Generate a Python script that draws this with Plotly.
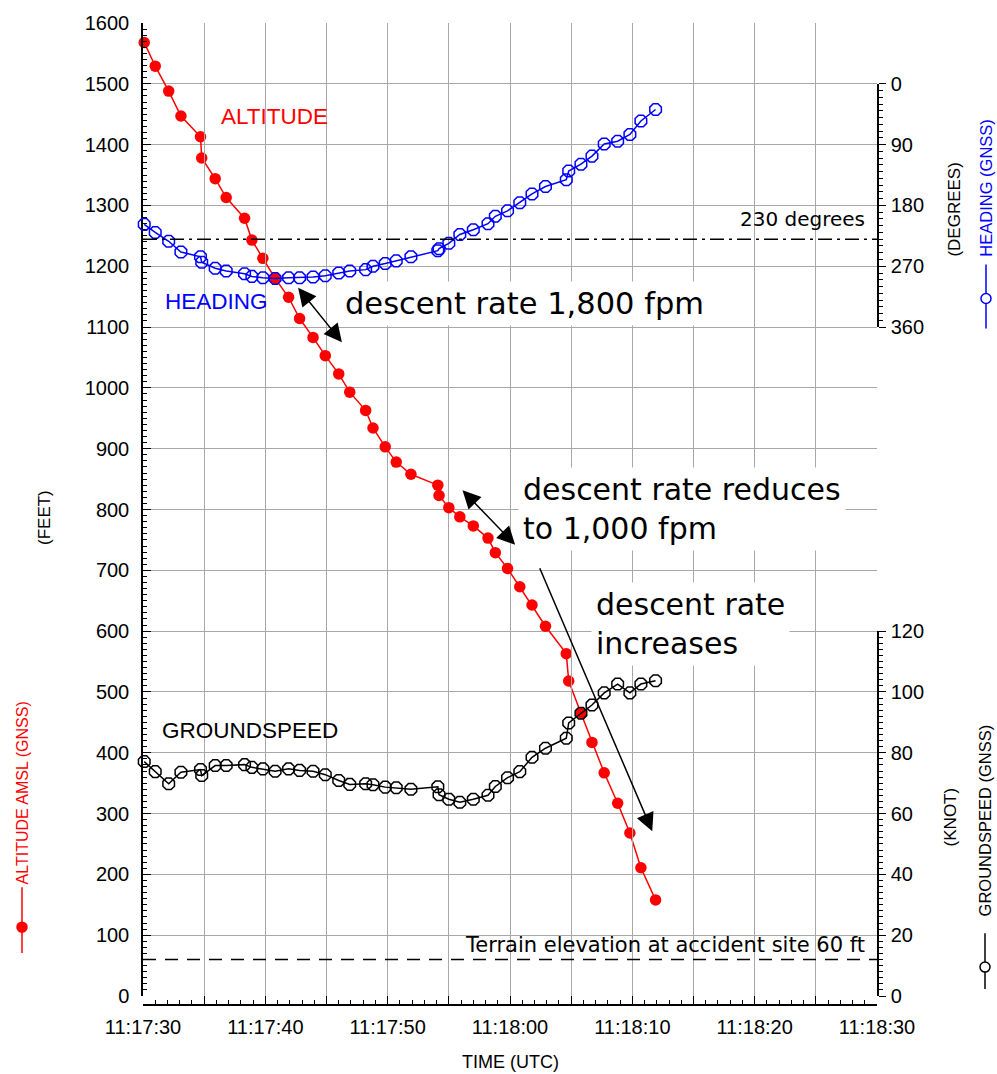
import plotly.graph_objects as go

# ---------------- data ----------------
# sample times, seconds after 11:17:00 UTC
time_s = [30.1, 31.0, 32.1, 33.1, 34.7, 34.8, 35.9, 36.8, 38.3, 38.9,
          39.8, 40.8, 41.9, 42.8, 43.9, 44.9, 46.0, 46.9, 48.2, 48.8,
          49.8, 50.7, 51.9, 54.1, 54.2, 55.0, 55.9, 57.0, 58.2, 58.8,
          59.8, 60.8, 61.8, 62.9, 64.6, 64.8, 65.8, 66.7, 67.7, 68.8,
          69.8, 70.7, 71.9]

altitude_ft = [1568, 1529, 1488, 1447, 1413, 1378, 1344, 1313, 1279, 1243,
               1213, 1180, 1149, 1114, 1083, 1053, 1023, 993, 963, 934,
               903, 878, 858, 840, 823, 803, 788, 773, 753, 729,
               703, 673, 643, 608, 563, 518, 465, 417, 367, 317,
               268, 211, 158]

heading_deg = [208, 220, 233, 249, 256, 264, 273, 277, 281, 285,
               287, 288, 287, 287, 286, 284, 280, 277, 275, 270,
               266, 262, 256, 247, 244, 236, 223, 216, 207, 196,
               188, 176, 163, 152, 142, 129, 119, 107, 89, 85,
               75, 55, 38]

groundspeed_kt = [77.1, 73.8, 69.8, 73.6, 74.5, 72.5, 75.8, 75.8, 76.1, 75.2,
                  74.7, 73.9, 74.7, 74.2, 73.9, 72.8, 70.9, 69.6, 69.8, 69.5,
                  68.7, 68.5, 68.0, 68.8, 66.2, 64.7, 63.7, 64.7, 66.0, 68.9,
                  71.8, 73.8, 78.5, 81.5, 84.8, 89.8, 93.0, 95.7, 99.7, 102.6,
                  99.7, 102.6, 103.7]

heading_ticks = [0, 90, 180, 270, 360]
HEADING_REF_DEG = 230
TERRAIN_FT = 60
ALT_RANGE = [0, 1600]
TIME_RANGE_S = [30, 90]


def ts(sec):
    m = int(sec // 60)
    s = sec - 60 * m
    return f"2000-01-01 11:{17 + m:02d}:{s:06.3f}"


times = [ts(s) for s in time_s]

# ---------------- layout geometry ----------------
W, H = 997, 1074
ML, MR, MT, MB = 143, 120, 21, 69
PW = W - ML - MR
PH = H - MT - MB
D0 = 9 / PH  # gap between the plot bottom and the offset time axis


def f_alt(ft):
    return D0 + (1 - D0) * ft / 1600.0


def px2x(px):
    return (px - ML) / PW


def py2y(py):
    return (H - MB - py) / PH


FONT = "Liberation Sans, Arial, sans-serif"
FONT2 = "DejaVu Sans, Liberation Sans, sans-serif"
GRID = "#a8a8a8"
RED = "#ff0000"
BLUE = "#0000ff"

fig = go.Figure()
fig.add_trace(go.Scatter(x=times, y=altitude_ft, mode="lines+markers", yaxis="y",
                         line=dict(color=RED, width=1.5),
                         marker=dict(symbol="circle", size=11.5, color=RED),
                         cliponaxis=False, showlegend=False))
fig.add_trace(go.Scatter(x=times, y=heading_deg, mode="lines+markers", yaxis="y3",
                         line=dict(color=BLUE, width=1.5),
                         marker=dict(symbol="octagon-open", size=12.5, color=BLUE,
                                     line=dict(width=1.5, color=BLUE)),
                         cliponaxis=False, showlegend=False))
fig.add_trace(go.Scatter(x=times, y=groundspeed_kt, mode="lines+markers", yaxis="y4",
                         line=dict(color="black", width=1.5),
                         marker=dict(symbol="octagon-open", size=12.5, color="black",
                                     line=dict(width=1.5, color="black")),
                         cliponaxis=False, showlegend=False))

tickfont = dict(family=FONT, size=20, color="black")

fig.update_layout(
    width=W, height=H,
    margin=dict(l=ML, r=MR, t=MT, b=MB, pad=0),
    paper_bgcolor="white", plot_bgcolor="rgba(0,0,0,0)",
    font=dict(family=FONT, color="black"),
    showlegend=False,
    xaxis=dict(type="date", range=[ts(TIME_RANGE_S[0]), ts(TIME_RANGE_S[1])],
               dtick=5000, ticklabelstep=2, tickformat="%H:%M:%S",
               showgrid=True, gridcolor=GRID, gridwidth=1, zeroline=False,
               showline=True, linecolor="black", linewidth=1.5,
               ticks="inside", ticklen=8, tickwidth=1.2, tickcolor="black",
               minor=dict(dtick=1000, ticks="inside", ticklen=4, tickwidth=1,
                          tickcolor="black", showgrid=False),
               anchor="free", position=0, tickfont=tickfont, ticklabelstandoff=4),
    yaxis=dict(range=ALT_RANGE, domain=[D0, 1], dtick=100,
               showgrid=True, gridcolor=GRID, gridwidth=1, zeroline=False,
               showline=True, linecolor="black", linewidth=1.5,
               ticks="inside", ticklen=8, tickwidth=1.2, tickcolor="black",
               minor=dict(dtick=10, ticks="inside", ticklen=4, tickwidth=1,
                          tickcolor="black", showgrid=False),
               tickfont=tickfont, ticklabelstandoff=8),
    yaxis3=dict(range=[360, 0], domain=[f_alt(1100), f_alt(1500)], anchor="x",
                side="right", tickvals=heading_ticks, showgrid=False, zeroline=False,
                showline=True, linecolor="black", linewidth=1.5,
                ticks="outside", ticklen=7, tickwidth=1.2, tickcolor="black",
                minor=dict(dtick=10, ticks="outside", ticklen=4, tickwidth=1,
                           tickcolor="black", showgrid=False),
                tickfont=tickfont, ticklabelstandoff=1),
    yaxis4=dict(range=[0, 120], domain=[D0, f_alt(600)], anchor="x",
                side="right", dtick=20, showgrid=False, zeroline=False,
                showline=True, linecolor="black", linewidth=1.5,
                ticks="outside", ticklen=7, tickwidth=1.2, tickcolor="black",
                minor=dict(dtick=2, ticks="outside", ticklen=4, tickwidth=1,
                           tickcolor="black", showgrid=False),
                tickfont=tickfont, ticklabelstandoff=1),
)

shapes = [
    dict(type="line", xref="x domain", x0=0, x1=1, yref="y3",
         y0=HEADING_REF_DEG, y1=HEADING_REF_DEG,
         line=dict(color="black", width=1.5, dash="14px,5px,3px,5px")),
    dict(type="line", xref="x domain", x0=0, x1=1, yref="y",
         y0=TERRAIN_FT, y1=TERRAIN_FT,
         line=dict(color="black", width=1.5, dash="13px,9px")),
]


def sym(xp, ytop, ybot, ycirc, color, filled):
    out = [dict(type="line", xref="paper", yref="paper",
                x0=px2x(xp), x1=px2x(xp), y0=py2y(ytop), y1=py2y(ybot),
                line=dict(color=color, width=1.5))]
    r = 5
    out.append(dict(type="circle", xref="paper", yref="paper",
                    x0=px2x(xp - r), x1=px2x(xp + r), y0=py2y(ycirc + r), y1=py2y(ycirc - r),
                    line=dict(color=color, width=1.5),
                    fillcolor=color if filled else "white"))
    return out


shapes += sym(22, 887, 953, 927, RED, True)
shapes += sym(986, 263, 327, 297, BLUE, False)
shapes += sym(985, 933, 989, 967, "black", False)
fig.update_layout(shapes=shapes)

ann = []


def txt(text, px, py, size, color="black", xanchor="center", angle=0, bg=None,
        family=FONT, align="left"):
    d = dict(text=text, xref="paper", yref="paper", x=px2x(px), y=py2y(py),
             xanchor=xanchor, yanchor="middle", showarrow=False, textangle=angle,
             align=align, font=dict(family=family, size=size, color=color))
    if bg:
        d.update(bgcolor=bg, borderpad=4)
    ann.append(d)


txt("ALTITUDE", 274, 115, 22.5, RED)
txt("HEADING", 216, 300, 22.5, BLUE)
txt("GROUNDSPEED", 250, 730, 22.5)
txt("descent rate 1,800 fpm", 340, 302, 30.5, xanchor="left", bg="white", family=FONT2)
txt("descent rate reduces<br>to 1,000 fpm", 518, 508, 30, xanchor="left", bg="white",
    family=FONT2)
txt("descent rate<br>increases", 591, 623, 30, xanchor="left", bg="white", family=FONT2)
txt("230 degrees", 867, 217, 20, xanchor="right", family=FONT2)
txt("Terrain elevation at accident site 60 ft", 867, 945, 21, xanchor="right",
    family=FONT2)
txt("TIME (UTC)", 510, 1062, 18)
txt("(FEET)", 45, 517, 17, angle=-90)
txt("ALTITUDE AMSL (GNSS)", 22, 793, 16, RED, angle=-90)
txt("(DEGREES)", 955, 208, 17, angle=-90)
txt("HEADING (GNSS)", 986, 186, 16.5, BLUE, angle=-90)
txt("(KNOT)", 950, 817, 17, angle=-90)
txt("GROUNDSPEED (GNSS)", 985, 820, 16.5, angle=-90)


def arrow(t_head, ft_head, t_tail, ft_tail, both):
    ann.append(dict(x=ts(t_head), y=ft_head, xref="x", yref="y",
                    ax=ts(t_tail), ay=ft_tail, axref="x", ayref="y",
                    text="", showarrow=True, arrowhead=2, arrowsize=2.4,
                    arrowwidth=1.5, arrowcolor="black",
                    arrowside="end+start" if both else "end",
                    startarrowhead=2, startarrowsize=2.4, standoff=0, startstandoff=0))


arrow(46.26, 1075, 42.58, 1167, True)
arrow(60.42, 742, 56.0, 834, True)
arrow(71.63, 271, 62.38, 706, False)

fig.update_layout(annotations=ann)
fig.write_html("out.html", config={"displayModeBar": False},
               post_script="document.body.style.margin='0px';")
